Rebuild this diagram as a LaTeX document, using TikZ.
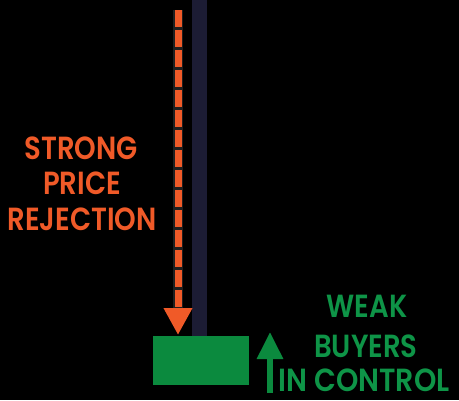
\documentclass[tikz,border=0pt]{standalone}
\usepackage{fontspec}
\setmainfont{Poppins}[UprightFont=* SemiBold]
\usetikzlibrary{arrows.meta}
\definecolor{orng}{HTML}{F05A28}
\definecolor{grn}{HTML}{0B8A3E}
\definecolor{grntxt}{HTML}{0E9447}
\definecolor{wickc}{HTML}{1C1C34}
\tikzset{
  lbl/.style={font=\fontsize{32}{38}\selectfont, inner sep=0pt},
}
\begin{document}
\begin{tikzpicture}[x=1pt,y=-1pt]
\fill[black] (0,0) rectangle (459,400);
\useasboundingbox (0,0) rectangle (459,400);
% body
\node[fill=grn, minimum width=96pt, minimum height=49pt, inner sep=0pt, anchor=north west] (body) at (153,336) {};
% wick
\coordinate (wtop) at (199.5,0);
\draw[wickc, line width=15pt] (wtop) -- (wtop |- body.north);
% orange arrow
\coordinate (oa) at (178,10);
\coordinate (ob) at (178,335);
\draw[black!70!white!40!black, line width=10pt] (oa) -- (178,308);
\draw[orng, line width=7pt, dash pattern=on 17pt off 3pt, -{Triangle[width=27pt,length=27pt]}] (oa) -- (ob);
% green arrow
\coordinate (ga) at (270,393);
\coordinate (gb) at (270,332);
\draw[grn, line width=6pt, -{Triangle[width=25pt,length=27pt]}] (ga) -- (gb);
% labels
\node[lbl, text=orng] (t1) at (81,148) {\scalebox{0.86}[1]{STRONG}};
\node[lbl, text=orng] (t2) at (82,183) {\scalebox{0.86}[1]{PRICE}};
\node[lbl, text=orng] (t3) at (82,219) {\scalebox{0.86}[1]{REJECTION}};
\node[lbl, text=grntxt] (g1) at (367,306) {\scalebox{0.86}[1]{WEAK}};
\node[lbl, text=grntxt] (g2) at (366,346) {\scalebox{0.86}[1]{BUYERS}};
\node[lbl, text=grntxt] (g3) at (364,380) {\scalebox{0.89}[1]{IN CONTROL}};
\end{tikzpicture}
\end{document}
